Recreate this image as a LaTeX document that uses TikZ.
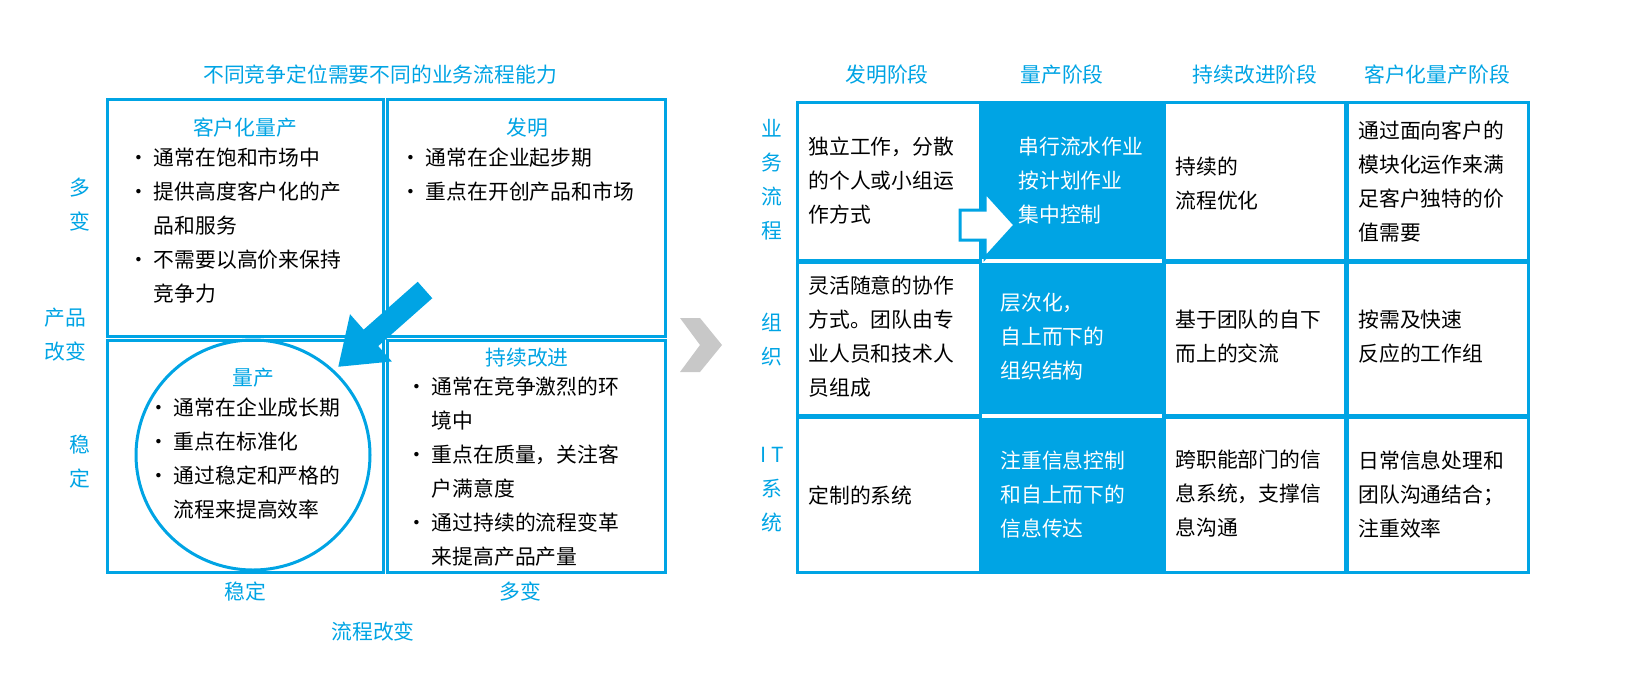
\documentclass[tikz,border=0pt]{standalone}
\usepackage{fontspec}
\setmainfont{Noto Sans CJK SC}
\usetikzlibrary{arrows.meta,positioning}
\definecolor{cyanline}{RGB}{0,164,228}
\definecolor{grayarrow}{RGB}{200,200,200}
\tikzset{
    every node/.style={font=\fontsize{10.4}{17}\selectfont},
    cell/.style={draw=cyanline,line width=1.5pt},
    head/.style={text=cyanline},
    body/.style={anchor=north west,align=left,inner sep=0pt}
}
\begin{document}
\begin{tikzpicture}[x=0.5pt,y=-0.5pt]
    % Left matrix
    \node[head] (title) at (380,75) {不同竞争定位需要不同的业务流程能力};
    \draw[cell] (107,100) rectangle (383,336);
    \draw[cell] (387,100) rectangle (665,336);
    \draw[cell] (107,340) rectangle (383,572);
    \draw[cell] (387,340) rectangle (665,572);
    \draw[cyanline,line width=1.5pt] (253,455) ellipse (117 and 115);

    \node[head] (tl) at (245,128) {客户化量产};
    \node[body] (tlb) at (128,147) {• 通常在饱和市场中\\• 提供高度客户化的产\\\phantom{• }品和服务\\• 不需要以高价来保持\\\phantom{• }竞争力};
    \node[head] (tr) at (527,128) {发明};
    \node[body] (trb) at (400,147) {• 通常在企业起步期\\• 重点在开创产品和市场};
    \node[head] (bl) at (253,378) {量产};
    \node[body] (blb) at (148,397) {• 通常在企业成长期\\• 重点在标准化\\• 通过稳定和严格的\\\phantom{• }流程来提高效率};
    \node[head] (br) at (527,358) {持续改进};
    \node[body] (brb) at (406,377) {• 通常在竞争激烈的环\\\phantom{• }境中\\• 重点在质量，关注客\\\phantom{• }户满意度\\• 通过持续的流程变革\\\phantom{• }来提高产品产量};

    \coordinate (arrS) at (425,290);
    \coordinate (arrE) at (338,367);
    \draw[cyanline,line width=11pt,-{Triangle[length=22pt,width=30pt]}] (arrS) -- (arrE);

    \node[head,align=center] (v1) at (80,205) {多\\变};
    \node[head,align=center] (v2) at (65,335) {产品\\改变};
    \node[head,align=center] (v3) at (80,462) {稳\\定};
    \node[head] (h1) at (245,592) {稳定};
    \node[head] (h2) at (520,592) {多变};
    \node[head] (h3) at (373,632) {流程改变};

    % Gray arrow
    \fill[grayarrow] (680,318) -- (700,318) -- (722,345) -- (700,372) -- (680,372) -- (700,345) -- cycle;

    % Right table
    \foreach \x/\t in {887/发明阶段,1062/量产阶段,1255/持续改进阶段,1437/客户化量产阶段}
        \node[head] at (\x,75) {\t};
    \node[head,align=center] (r1) at (772,180) {业\\务\\流\\程};
    \node[head,align=center] (r2) at (772,340) {组\\织};
    \node[head,align=center] (r3) at (772,490) {I T\\系\\统};

    \fill[cyanline] (982,103) rectangle (1162,572);
    \foreach \xa/\xb in {797/980,982/1162,1164/1345,1347/1528}
        \foreach \ya/\yb in {103/260,262/415,417/572}
            \draw[cell] (\xa,\ya) rectangle (\xb,\yb);
    \draw[white,line width=2pt] (982,261) -- (1162,261) (982,416) -- (1162,416);

    \draw[cyanline,fill=white,line width=1.5pt] (960,210) -- (985,210) -- (985,192) -- (1015,225) -- (985,258) -- (985,240) -- (960,240) -- cycle;

    \node[body] (c11) at (808,137) {独立工作，分散\\的个人或小组运\\作方式};
    \node[body,text=white] (c12) at (1018,137) {串行流水作业\\按计划作业\\集中控制};
    \node[body] (c13) at (1175,157) {持续的\\流程优化};
    \node[body] (c14) at (1358,120) {通过面向客户的\\模块化运作来满\\足客户独特的价\\值需要};
    \node[body] (c21) at (808,275) {灵活随意的协作\\方式。团队由专\\业人员和技术人\\员组成};
    \node[body,text=white] (c22) at (1000,293) {层次化，\\自上而下的\\组织结构};
    \node[body] (c23) at (1175,310) {基于团队的自下\\而上的交流};
    \node[body] (c24) at (1358,310) {按需及快速\\反应的工作组};
    \node[body] (c31) at (808,485) {定制的系统};
    \node[body,text=white] (c32) at (1000,450) {注重信息控制\\和自上而下的\\信息传达};
    \node[body] (c33) at (1175,450) {跨职能部门的信\\息系统，支撑信\\息沟通};
    \node[body] (c34) at (1358,450) {日常信息处理和\\团队沟通结合；\\注重效率};

    \pgfresetboundingbox
    \path[use as bounding box] (0,0) rectangle (1636,690);
\end{tikzpicture}
\end{document}
